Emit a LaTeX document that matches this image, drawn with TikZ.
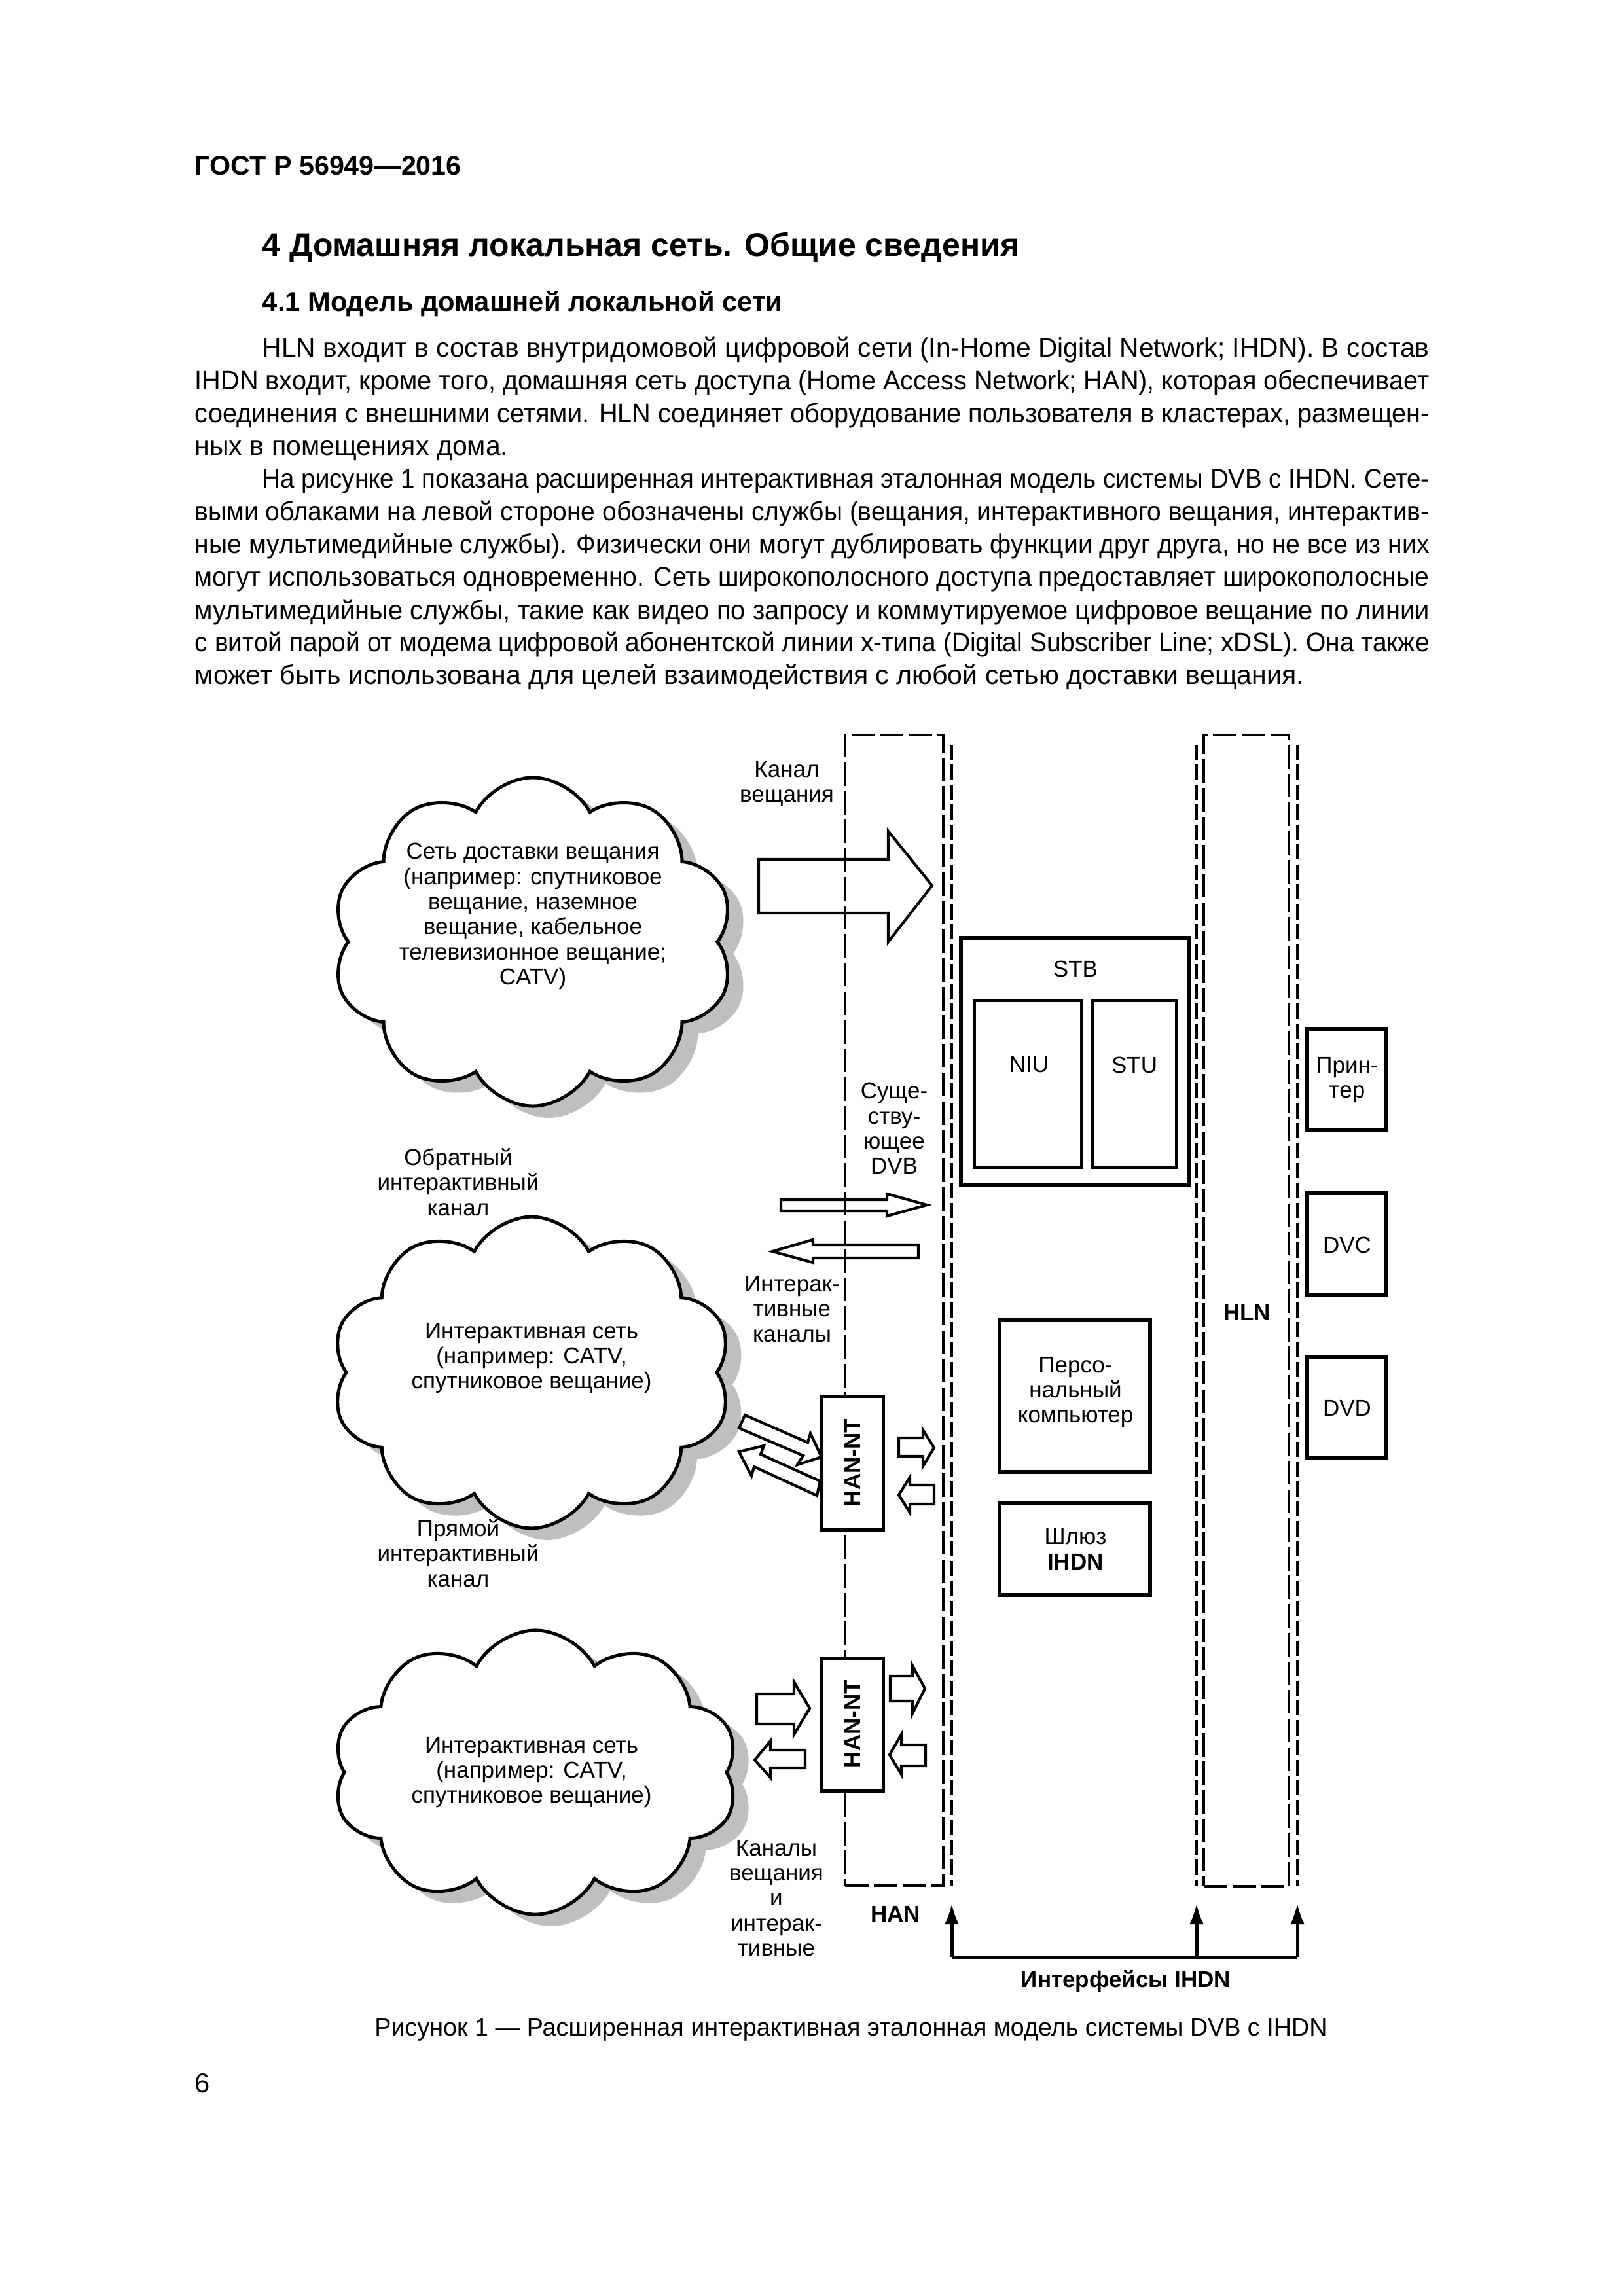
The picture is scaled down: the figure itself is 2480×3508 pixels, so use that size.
\documentclass[tikz,border=0pt]{standalone}
\usepackage{fontspec}
\usepackage{graphicx}
\setmainfont{Liberation Sans}
\usetikzlibrary{shapes.symbols,fit,arrows.meta}
\newsavebox\jbox
\newcommand\jline[2]{%
  \sbox\jbox{#2}%
  \ifdim\wd\jbox>#1\relax
    \scalebox{\fpeval{(#1)/(\the\wd\jbox)}}[1]{\usebox\jbox}%
  \else
    \makebox[#1][s]{#2}%
  \fi}
\begin{document}
\begin{tikzpicture}[x=0.24pt,y=-0.24pt,
  txt/.style={inner sep=0pt, font=\fontsize{9.85pt}{12pt}\selectfont},
  lbl/.style={inner sep=0pt, align=center, font=\fontsize{8.4pt}{9.2pt}\selectfont},
  lblb/.style={inner sep=0pt, align=center, font=\fontsize{8.4pt}{9.2pt}\selectfont\bfseries},
  longdash/.style={line width=1.1pt, dash pattern=on 8.6pt off 1.9pt},
  shortdash/.style={line width=1pt, dash pattern=on 5.6pt off 1.7pt},
  boxk/.style={draw, line width=1.45pt, inner sep=0pt},
  boxt/.style={draw, line width=1.2pt, inner sep=0pt},
  blk/.style={line width=1pt, line join=miter},
  ifc/.style={line width=1.2pt},
  cloudk/.style={cloud, cloud puffs=10, cloud puff arc=125, cloud ignores aspect, inner sep=0pt},
]
\useasboundingbox (0,0) rectangle (2480,3508);
\fill[white] (0,0) rectangle (2480,3508);

% ---------- page text ----------
\node[anchor=base west, inner sep=0pt, font=\fontsize{9.9pt}{12pt}\selectfont\bfseries] (hdr) at (297,268) {ГОСТ Р 56949—2016};
\node[anchor=base west, inner sep=0pt, font=\fontsize{12pt}{14pt}\selectfont\bfseries] (h1) at (400,392) {4 Домашняя локальная сеть. Общие сведения};
\node[anchor=base west, inner sep=0pt, font=\fontsize{10pt}{12pt}\selectfont\bfseries] (h2) at (400,476) {4.1 Модель домашней локальной сети};

\node[txt, anchor=base west] (l1) at (400,546) {\jline{427.9pt}{HLN входит в состав внутридомовой цифровой сети (In-Home Digital Network; IHDN). В состав}};
\node[txt, anchor=base west] (l2) at (297,596) {\jline{452.6pt}{IHDN входит, кроме того, домашняя сеть доступа (Home Access Network; HAN), которая обеспечивает}};
\node[txt, anchor=base west] (l3) at (297,646) {\jline{452.6pt}{соединения с внешними сетями. HLN соединяет оборудование пользователя в кластерах, размещен-}};
\node[txt, anchor=base west] (l4) at (297,696) {ных в помещениях дома.};
\node[txt, anchor=base west] (l5) at (400,746) {\jline{427.9pt}{На рисунке 1 показана расширенная интерактивная эталонная модель системы DVB с IHDN. Сете-}};
\node[txt, anchor=base west] (l6) at (297,796) {\jline{452.6pt}{выми облаками на левой стороне обозначены службы (вещания, интерактивного вещания, интерактив-}};
\node[txt, anchor=base west] (l7) at (297,846) {\jline{452.6pt}{ные мультимедийные службы). Физически они могут дублировать функции друг друга, но не все из них}};
\node[txt, anchor=base west] (l8) at (297,896) {\jline{452.6pt}{могут использоваться одновременно. Сеть широкополосного доступа предоставляет широкополосные}};
\node[txt, anchor=base west] (l9) at (297,946) {\jline{452.6pt}{мультимедийные службы, такие как видео по запросу и коммутируемое цифровое вещание по линии}};
\node[txt, anchor=base west] (l10) at (297,996) {\jline{452.6pt}{с витой парой от модема цифровой абонентской линии x-типа (Digital Subscriber Line; xDSL). Она также}};
\node[txt, anchor=base west] (l11) at (297,1045) {может быть использована для целей взаимодействия с любой сетью доставки вещания.};

\node[anchor=base, inner sep=0pt, font=\fontsize{9.05pt}{11pt}\selectfont] (cap) at (1300,3110) {Рисунок 1 — Расширенная интерактивная эталонная модель системы DVB с IHDN};
\node[anchor=base west, inner sep=0pt, font=\fontsize{10pt}{12pt}\selectfont] (pno) at (297,3197) {6};

% ---------- clouds ----------
\node[cloudk, fill=black!25, minimum width=147.4pt, minimum height=120.5pt] (c1s) at (838,1457) {};
\node[cloudk, draw, fill=white, line width=1.2pt, minimum width=147.4pt, minimum height=120.5pt] (c1) at (814,1439) {};
\node[cloudk, fill=black!25, minimum width=146.6pt, minimum height=114.2pt] (c2s) at (836,2115) {};
\node[cloudk, draw, fill=white, line width=1.2pt, minimum width=146.6pt, minimum height=114.2pt] (c2) at (812,2097) {};
\node[cloudk, fill=black!25, minimum width=148.6pt, minimum height=104.2pt] (c3s) at (842,2726) {};
\node[cloudk, draw, fill=white, line width=1.2pt, minimum width=148.6pt, minimum height=104.2pt] (c3) at (818,2708) {};

\node[lbl] (c1t) at (814,1400) {Сеть доставки вещания\\(например: спутниковое\\вещание, наземное\\вещание, кабельное\\телевизионное вещание;\\CATV)};
\node[lbl] (c2t) at (812,2075) {Интерактивная сеть\\(например: CATV,\\спутниковое вещание)};
\node[lbl] (c3t) at (812,2708) {Интерактивная сеть\\(например: CATV,\\спутниковое вещание)};

% ---------- block arrows ----------
\draw[blk] (1159,1313) -- (1357,1313) -- (1357,1270) -- (1424,1353) -- (1357,1439) -- (1357,1395) -- (1159,1395) -- cycle;
\draw[blk] (1193,1833) -- (1355,1833) -- (1355,1824) -- (1416,1841) -- (1355,1858) -- (1355,1850) -- (1193,1850) -- cycle;
\draw[blk] (1403,1902) -- (1242,1902) -- (1242,1894) -- (1180,1912) -- (1242,1929) -- (1242,1922) -- (1403,1922) -- cycle;
\draw[blk, fill=white] (1138,2162) -- (1234,2204) -- (1238,2190) -- (1255,2226) -- (1218,2238) -- (1227,2224) -- (1129,2182) -- cycle;
\draw[blk, fill=white] (1129,2218) -- (1167,2209) -- (1162,2222) -- (1253,2263) -- (1248,2285) -- (1152,2241) -- (1148,2255) -- cycle;
\draw[blk] (1373,2197) -- (1410,2197) -- (1410,2185) -- (1427,2212) -- (1410,2240) -- (1410,2225) -- (1373,2225) -- cycle;
\draw[blk] (1427,2269) -- (1390,2269) -- (1390,2257) -- (1373,2284) -- (1390,2311) -- (1390,2298) -- (1427,2298) -- cycle;
\draw[blk] (1360,2561) -- (1394,2561) -- (1394,2545) -- (1413,2580) -- (1394,2618) -- (1394,2599) -- (1360,2599) -- cycle;
\draw[blk] (1414,2666) -- (1377,2666) -- (1377,2650) -- (1359,2681) -- (1377,2711) -- (1377,2698) -- (1414,2698) -- cycle;
\draw[blk] (1156,2588) -- (1213,2588) -- (1213,2570) -- (1237,2610) -- (1213,2650) -- (1213,2634) -- (1156,2634) -- cycle;
\draw[blk] (1230,2674) -- (1177,2674) -- (1177,2660) -- (1153,2689) -- (1177,2716) -- (1177,2701) -- (1230,2701) -- cycle;

% ---------- dashed columns ----------
\node[fit={(1291,1123)(1441,2881)}, inner sep=0pt, draw, longdash] (han) {};
\node[fit={(1839,1123)(1969,2882)}, inner sep=0pt, draw, longdash] (hln) {};
\coordinate (d1t) at (1454,1138); \coordinate (d1b) at (1454,2881);
\coordinate (d2t) at (1828,1138); \coordinate (d2b) at (1828,2882);
\coordinate (d3t) at (1982,1138); \coordinate (d3b) at (1982,2882);
\draw[shortdash] (d1t) -- (d1b);
\draw[shortdash] (d2t) -- (d2b);
\draw[shortdash] (d3t) -- (d3b);

% ---------- boxes ----------
\node[fit={(1468,1433)(1817,1811)}, boxk] (stb) {};
\node[fit={(1488,1528)(1652,1783)}, boxt] (niu) {};
\node[fit={(1668,1528)(1797,1783)}, boxt] (stu) {};
\node[fit={(1527,2017)(1757,2249)}, boxk] (pc) {};
\node[fit={(1527,2297)(1757,2437)}, boxk] (gw) {};
\node[fit={(1997,1572)(2118,1726)}, boxk] (prn) {};
\node[fit={(1997,1823)(2118,1978)}, boxk] (dvc) {};
\node[fit={(1997,2073)(2118,2228)}, boxk] (dvd) {};
\node[fit={(1255,2133)(1349,2337)}, boxt, fill=white] (nt1) {};
\node[fit={(1255,2533)(1349,2736)}, boxt, fill=white] (nt2) {};

\node[lbl] (stbt) at (1643,1480) {STB};
\node[lbl] (niut) at (1572,1627) {NIU};
\node[lbl] (stut) at (1733,1627) {STU};
\node[lbl] (pct) at (1643,2127) {Персо-\\нальный\\компьютер};
\node[lbl] (gwt) at (1643,2367) {Шлюз\\\textbf{IHDN}};
\node[lbl] (prnt) at (2058,1650) {Прин-\\тер};
\node[lbl] (dvct) at (2058,1902) {DVC};
\node[lbl] (dvdt) at (2058,2151) {DVD};
\node[lblb, rotate=90] (nt1t) at (1302,2235) {HAN-NT};
\node[lblb, rotate=90] (nt2t) at (1302,2634) {HAN-NT};

% ---------- labels ----------
\node[lbl] (kv) at (1202,1198) {Канал\\вещания};
\node[lbl] (sdvb) at (1366,1724) {Суще-\\ству-\\ющее\\DVB};
\node[lbl] (obr) at (700,1806) {Обратный\\интерактивный\\канал};
\node[lbl] (ik) at (1210,2000) {Интерак-\\тивные\\каналы};
\node[lbl] (pr) at (700,2373) {Прямой\\интерактивный\\канал};
\node[lbl] (kvi) at (1186,2900) {Каналы\\вещания\\и\\интерак-\\тивные};
\node[lblb] (hant) at (1368,2924) {HAN};
\node[lblb] (hlnt) at (1905,2005) {HLN};
\node[lblb] (ifct) at (1720,3027) {Интерфейсы IHDN};

% ---------- IHDN interfaces ----------
\coordinate (i1) at (1454,2990); \coordinate (i2) at (1828,2990); \coordinate (i3) at (1982,2990);
\coordinate (t1) at (1454,2908); \coordinate (t2) at (1828,2908); \coordinate (t3) at (1982,2908);
\draw[ifc] (i1) -- (i3);
\draw[ifc, -{Latex[length=7.7pt,width=5.3pt]}] (i1) -- (t1);
\draw[ifc, -{Latex[length=7.7pt,width=5.3pt]}] (i2) -- (t2);
\draw[ifc, -{Latex[length=7.7pt,width=5.3pt]}] (i3) -- (t3);
\end{tikzpicture}
\end{document}
